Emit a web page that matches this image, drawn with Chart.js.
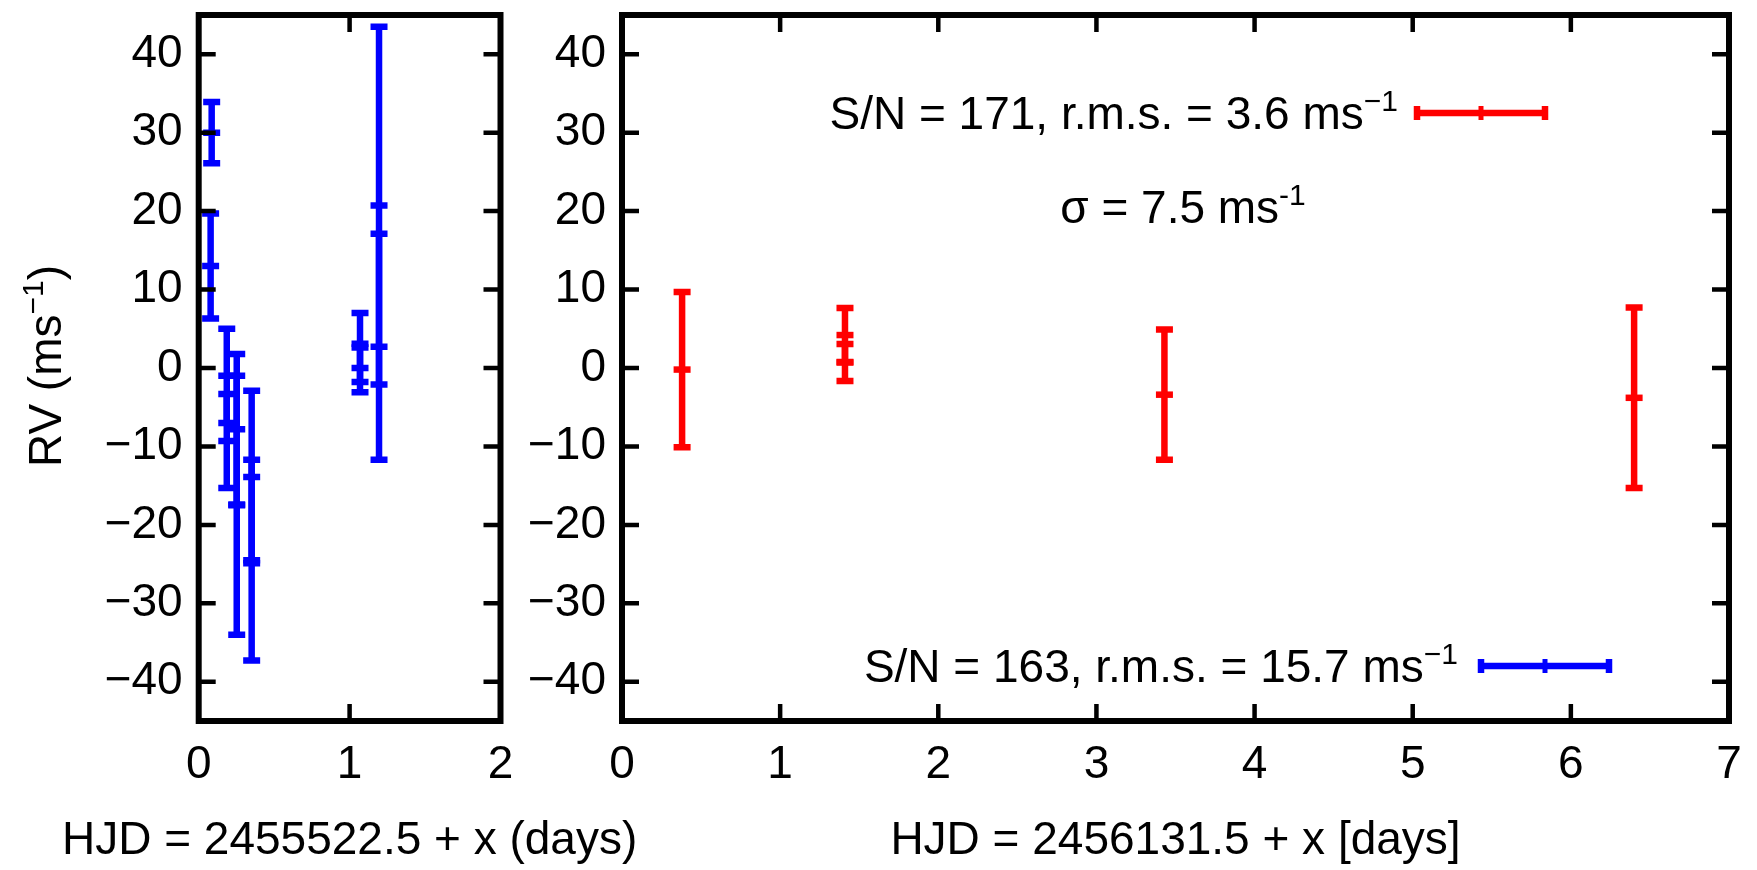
<!DOCTYPE html>
<html><head><meta charset="utf-8">
<script src="https://cdn.jsdelivr.net/npm/chart.js@4.4.1/dist/chart.umd.min.js"></script>
<style>
html,body{margin:0;padding:0;background:#fff;width:1757px;height:870px;overflow:hidden}
canvas{position:absolute;top:0}
</style></head><body>
<canvas id="a" width="760" height="870" style="left:0;width:760px;height:870px"></canvas>
<canvas id="b" width="1252" height="870" style="left:505px;width:1252px;height:870px"></canvas>
<script>
// ---- data ----
const blueX   = [0.086, 0.079, 0.186, 0.186, 0.252, 0.252, 0.351, 0.351, 1.069, 1.069, 1.195, 1.195];
const blueY   = [30.0, 13.0, -1.0, -9.3, -7.8, -17.5, -13.9, -24.5, 2.6, 0.0, 20.7, 2.7];
const blueErr = [3.9, 6.7, 6.0, 6.0, 9.6, 16.5, 11.0, 12.8, 4.4, 3.1, 22.8, 14.4];
const redX    = [0.38, 1.41, 1.41, 3.43, 6.40];
const redY    = [-0.2, 4.2, 0.7, -3.4, -3.8];
const redErr  = [9.9, 3.45, 2.35, 8.3, 11.5];
const yRange = [-45, 45];
const yTicks = [-40, -30, -20, -10, 0, 10, 20, 30, 40];
const xTicksLeft  = [0, 1, 2];
const xTicksRight = [0, 1, 2, 3, 4, 5, 6, 7];
const yLabel = ['RV (ms', '\u22121', ')'];
const xLabelLeft  = 'HJD = 2455522.5 + x (days)';
const xLabelRight = 'HJD = 2456131.5 + x [days]';
const keyRed  = ['S/N = 171, r.m.s. = 3.6 ms', '\u22121'];
const keyBlue = ['S/N = 163, r.m.s. = 15.7 ms', '\u22121'];
const sigmaText = ['\u03c3 = 7.5 ms', '-1'];

const BLUE = '#0000ff', RED = '#ff0000';
const FONT = '"Liberation Sans", Arial, Helvetica, sans-serif';
const FS = 46;
const LW = 6.5;
Chart.defaults.font.family = FONT;
Chart.defaults.color = '#000';

function drawRich(ctx, parts, x, yc, align, size) {
  const base = yc + size * 0.358;
  let w = 0;
  parts.forEach(p => { ctx.font = (p.sup ? Math.round(size * 0.66) : size) + 'px ' + FONT; p.w = ctx.measureText(p.t).width; w += p.w; });
  let sx = align === 'right' ? x - w : align === 'center' ? x - w / 2 : x;
  ctx.textAlign = 'left'; ctx.textBaseline = 'alphabetic'; ctx.fillStyle = '#000';
  parts.forEach(p => {
    ctx.font = (p.sup ? Math.round(size * 0.66) : size) + 'px ' + FONT;
    ctx.fillText(p.t, sx, p.sup ? base - size * 0.40 : base);
    sx += p.w;
  });
}

const errPlugin = {
  id: 'errbars',
  beforeDatasetsDraw(chart) {
    const {ctx, chartArea: a, scales: {x, y}} = chart;
    ctx.save();
    ctx.beginPath(); ctx.rect(a.left, a.top, a.right - a.left, a.bottom - a.top); ctx.clip();
    chart.data.datasets.forEach(ds => {
      ctx.strokeStyle = ds.borderColor; ctx.lineWidth = LW; ctx.lineCap = 'butt';
      ds.data.forEach((p, j) => {
        const e = ds.errs[j];
        const px = x.getPixelForValue(p.x);
        const yt = y.getPixelForValue(p.y + e), yb = y.getPixelForValue(p.y - e);
        ctx.beginPath();
        ctx.moveTo(px, yt); ctx.lineTo(px, yb);
        ctx.moveTo(px - 8.5, yt); ctx.lineTo(px + 8.5, yt);
        ctx.moveTo(px - 8.5, yb); ctx.lineTo(px + 8.5, yb);
        ctx.stroke();
      });
    });
    ctx.restore();
  }
};

const framePlugin = {
  id: 'frame',
  afterDatasetsDraw(chart) {
    const {ctx, chartArea: a, scales: {x, y}} = chart;
    ctx.save();
    ctx.strokeStyle = '#000'; ctx.lineWidth = 4.5;
    const tl = 17;
    ctx.beginPath();
    y.ticks.forEach(t => {
      if (t.value <= y.min || t.value >= y.max) return;
      const py = y.getPixelForValue(t.value);
      ctx.moveTo(a.left, py); ctx.lineTo(a.left + tl, py);
      ctx.moveTo(a.right, py); ctx.lineTo(a.right - tl, py);
    });
    x.ticks.forEach(t => {
      if (t.value <= x.min || t.value >= x.max) return;
      const px = x.getPixelForValue(t.value);
      ctx.moveTo(px, a.top); ctx.lineTo(px, a.top + tl);
      ctx.moveTo(px, a.bottom); ctx.lineTo(px, a.bottom - tl);
    });
    ctx.stroke();
    ctx.lineWidth = 6;
    ctx.strokeRect(a.left, a.top, a.right - a.left, a.bottom - a.top);
    ctx.restore();
  }
};

function noPad(s) { s.paddingTop = 0; s.paddingBottom = 0; s.paddingLeft = 0; s.paddingRight = 0; }
const minus = v => String(v).replace('-', '\u2212');

function makeOptions(xt, padRight, yWidth) {
  return {
    responsive: false, animation: false, events: [],
    layout: {padding: {left: 0, right: padRight, top: 11, bottom: 0}},
    plugins: {legend: {display: false}, tooltip: {enabled: false}},
    scales: {
      x: {type: 'linear', min: xt[0], max: xt[xt.length - 1],
          ticks: {font: {size: FS}, padding: 17, color: '#000', callback: minus},
          afterBuildTicks(s) { s.ticks = xt.map(v => ({value: v})); },
          grid: {display: false, drawTicks: false}, border: {display: false},
          afterFit(s) { s.height = 149; noPad(s); }},
      y: {type: 'linear', min: yRange[0], max: yRange[1],
          ticks: {font: {size: FS}, padding: 16, color: '#000', callback: minus},
          afterBuildTicks(s) { s.ticks = yTicks.map(v => ({value: v})); },
          grid: {display: false, drawTicks: false}, border: {display: false},
          afterFit(s) { s.width = yWidth; noPad(s); }}
    }
  };
}

const pts = (xs, ys) => xs.map((x, i) => ({x, y: ys[i]}));

const textA = {
  id: 'textA',
  afterDraw(chart) {
    const {ctx, chartArea: a} = chart;
    ctx.save();
    drawRich(ctx, [{t: xLabelLeft}], (a.left + a.right) / 2, 838, 'center', FS);
    ctx.translate(45, 366); ctx.rotate(-Math.PI / 2);
    drawRich(ctx, [{t: yLabel[0]}, {t: yLabel[1], sup: true}, {t: yLabel[2]}], 0, 0, 'center', FS);
    ctx.restore();
  }
};

function keySample(ctx, x1, x2, yc, color) {
  ctx.strokeStyle = color; ctx.lineWidth = LW;
  ctx.beginPath();
  ctx.moveTo(x1, yc); ctx.lineTo(x2, yc);
  ctx.moveTo(x1, yc - 7); ctx.lineTo(x1, yc + 7);
  ctx.moveTo(x2, yc - 7); ctx.lineTo(x2, yc + 7);
  ctx.stroke();
  ctx.lineWidth = 5;
  ctx.beginPath();
  const xm = (x1 + x2) / 2;
  ctx.moveTo(xm, yc - 7); ctx.lineTo(xm, yc + 7);
  ctx.stroke();
}

const OB = 505; // canvas b offset
const textB = {
  id: 'textB',
  afterDraw(chart) {
    const {ctx, chartArea: a} = chart;
    ctx.save();
    drawRich(ctx, [{t: xLabelRight}], (a.left + a.right) / 2, 838, 'center', FS);
    drawRich(ctx, [{t: keyRed[0]}, {t: keyRed[1], sup: true}], 1398 - OB, 113, 'right', FS);
    keySample(ctx, 1417 - OB, 1545 - OB, 113, RED);
    drawRich(ctx, [{t: sigmaText[0]}, {t: sigmaText[1], sup: true}], 1183 - OB, 207, 'center', FS);
    drawRich(ctx, [{t: keyBlue[0]}, {t: keyBlue[1], sup: true}], 1458 - OB, 666, 'right', FS);
    keySample(ctx, 1481 - OB, 1609 - OB, 666, BLUE);
    ctx.restore();
  }
};

new Chart(document.getElementById('a'), {
  type: 'scatter',
  data: {datasets: [{data: pts(blueX, blueY), errs: blueErr, pointStyle: 'line', pointRadius: 8.5, pointHoverRadius: 8.5,
                     borderColor: BLUE, backgroundColor: BLUE, borderWidth: LW, pointBorderWidth: LW}]},
  options: makeOptions(xTicksLeft, 760 - 500.5, 198.7),
  plugins: [errPlugin, framePlugin, textA]
});

new Chart(document.getElementById('b'), {
  type: 'scatter',
  data: {datasets: [{data: pts(redX, redY), errs: redErr, pointStyle: 'line', pointRadius: 8.5, pointHoverRadius: 8.5,
                     borderColor: RED, backgroundColor: RED, borderWidth: LW, pointBorderWidth: LW}]},
  options: makeOptions(xTicksRight, 1757 - 1729, 622 - OB),
  plugins: [errPlugin, framePlugin, textB]
});
</script>
</body></html>
